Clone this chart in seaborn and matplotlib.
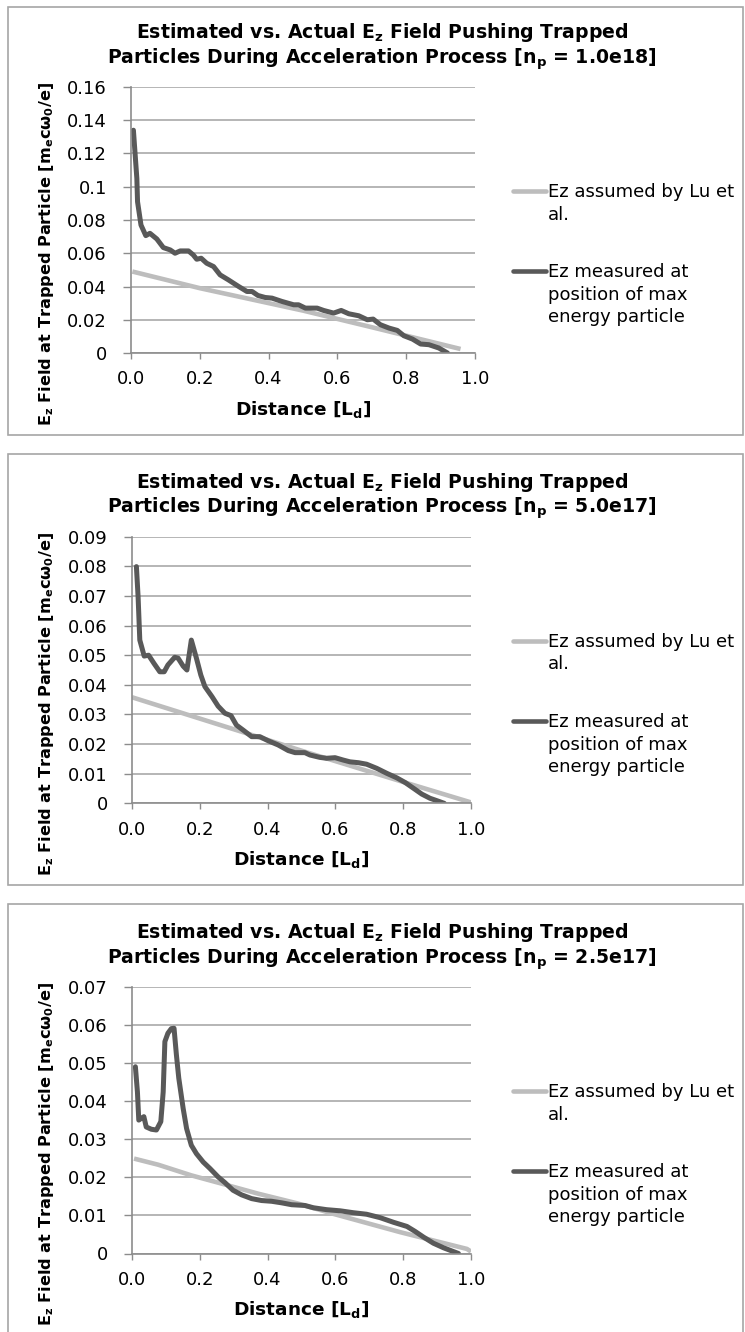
import numpy as np
import pandas as pd
import matplotlib
matplotlib.use("Agg")
import matplotlib.pyplot as plt
import seaborn as sns
from matplotlib.lines import Line2D
from matplotlib.patches import Rectangle
from matplotlib.ticker import FuncFormatter, MultipleLocator

# ---------------- data ----------------
densities = ["1.0e18", "5.0e17", "2.5e17"]
series_names = ["Ez assumed by Lu et al.", "Ez measured at position of max energy particle"]

p1_lu_x = [0.004, 0.2, 0.4, 0.5, 0.7, 0.958]
p1_lu_y = [0.049, 0.039, 0.030, 0.0255, 0.0155, 0.0024]
p1_meas_x = [0.007, 0.017, 0.019, 0.029, 0.043, 0.055, 0.075, 0.094, 0.114, 0.128,
             0.143, 0.167, 0.181, 0.191, 0.204, 0.22, 0.24, 0.259, 0.283, 0.313,
             0.337, 0.352, 0.369, 0.390, 0.41, 0.439, 0.473, 0.487, 0.507, 0.521,
             0.541, 0.560, 0.589, 0.611, 0.633, 0.662, 0.687, 0.704, 0.725, 0.75,
             0.774, 0.793, 0.818, 0.842, 0.866, 0.895, 0.92]
p1_meas_y = [0.134, 0.105, 0.091, 0.077, 0.0706, 0.072, 0.0686, 0.0634, 0.062, 0.060,
             0.0614, 0.0614, 0.059, 0.0564, 0.057, 0.054, 0.052, 0.047, 0.044, 0.040,
             0.037, 0.037, 0.0346, 0.0334, 0.033, 0.031, 0.029, 0.029, 0.027, 0.027,
             0.027, 0.0256, 0.024, 0.0256, 0.0236, 0.0224, 0.020, 0.0204, 0.017, 0.015,
             0.0136, 0.0104, 0.0084, 0.0054, 0.005, 0.003, 0.0]

p2_lu_x = [0.0, 0.2, 0.4, 0.51, 0.8, 1.0]
p2_lu_y = [0.0358, 0.0286, 0.0214, 0.0174, 0.0072, 0.0003]
p2_meas_x = [0.013, 0.018, 0.023, 0.036, 0.049, 0.065, 0.082, 0.095, 0.106, 0.126,
             0.136, 0.151, 0.162, 0.175, 0.19, 0.203, 0.215, 0.236, 0.254, 0.274,
             0.292, 0.308, 0.328, 0.353, 0.377, 0.402, 0.431, 0.461, 0.481, 0.51,
             0.525, 0.554, 0.574, 0.599, 0.623, 0.643, 0.668, 0.692, 0.722, 0.752,
             0.781, 0.806, 0.83, 0.855, 0.879, 0.899, 0.921]
p2_meas_y = [0.0799, 0.0697, 0.0551, 0.0497, 0.050, 0.0472, 0.0444, 0.0444, 0.0467, 0.0493,
             0.049, 0.0463, 0.045, 0.0551, 0.049, 0.0433, 0.0394, 0.036, 0.0328, 0.0304,
             0.0296, 0.0264, 0.0247, 0.0225, 0.0225, 0.0211, 0.0197, 0.0178, 0.0171, 0.0171,
             0.0163, 0.0155, 0.0152, 0.0154, 0.0146, 0.014, 0.0137, 0.0132, 0.0118, 0.0101,
             0.0086, 0.007, 0.0051, 0.0031, 0.0017, 0.0009, 0.0]

p3_lu_x = [0.006, 0.077, 0.175, 0.274, 0.372, 0.49, 0.594, 0.791, 0.988, 1.0]
p3_lu_y = [0.0249, 0.0233, 0.0205, 0.0181, 0.0157, 0.0131, 0.0104, 0.0056, 0.0012, 0.0005]
p3_meas_x = [0.010, 0.016, 0.020, 0.028, 0.035, 0.042, 0.057, 0.072, 0.085, 0.092,
             0.097, 0.106, 0.116, 0.124, 0.131, 0.138, 0.151, 0.161, 0.175, 0.19,
             0.21, 0.23, 0.254, 0.274, 0.298, 0.323, 0.353, 0.382, 0.412, 0.441,
             0.471, 0.51, 0.535, 0.574, 0.614, 0.653, 0.692, 0.732, 0.771, 0.811,
             0.835, 0.86, 0.889, 0.919, 0.963]
p3_meas_y = [0.049, 0.0424, 0.035, 0.0355, 0.0359, 0.0332, 0.0326, 0.0324, 0.0346, 0.0424,
             0.0556, 0.0578, 0.059, 0.0591, 0.0521, 0.046, 0.038, 0.0328, 0.0284, 0.0262,
             0.024, 0.0223, 0.0201, 0.0186, 0.0166, 0.0154, 0.0144, 0.0139, 0.0137, 0.0133,
             0.0128, 0.0126, 0.012, 0.0115, 0.0112, 0.0107, 0.0103, 0.0094, 0.0082, 0.0071,
             0.0058, 0.0043, 0.0027, 0.0015, 0.0]

y_maxima = [0.16, 0.09, 0.07]
y_steps = [0.02, 0.01, 0.01]
x_ticks = [0.0, 0.2, 0.4, 0.6, 0.8, 1.0]

legend_lines = [["Ez assumed by Lu et", "al."],
                ["Ez measured at", "position of max", "energy particle"]]

# ---------------- style ----------------
sns.set_theme(style="white")
plt.rcParams['font.family'] = ['DejaVu Sans']
plt.rcParams['mathtext.fontset'] = 'dejavusans'

LIGHT = "#bdbdbd"
DARK = "#595959"
GRID = "#a9a9a9"
SPINE = "#8c8c8c"
BOXC = "#a6a6a6"
TEXT = "#000000"

W, H = 745, 1332
fig = plt.figure(figsize=(W / 100, H / 100), dpi=100)
fig.patch.set_facecolor("white")


def fx(x):
    return x / W


def fy(y):
    return 1 - y / H


# panel geometry in pixels
layouts = [
    dict(top=7, bottom=435, ax=(131, 87, 475, 353), dy=0),
    dict(top=454, bottom=885, ax=(132, 536.7, 471, 803.3), dy=2.7),
    dict(top=904, bottom=1345, ax=(132, 986.7, 471, 1253.5), dy=2.7),
]

data = [
    (p1_lu_x, p1_lu_y, p1_meas_x, p1_meas_y),
    (p2_lu_x, p2_lu_y, p2_meas_x, p2_meas_y),
    (p3_lu_x, p3_lu_y, p3_meas_x, p3_meas_y),
]


def yfmt(v, pos):
    s = f"{v:.2f}".rstrip("0").rstrip(".")
    return s


for i, lay in enumerate(layouts):
    top, bottom = lay["top"], lay["bottom"]
    l, t, r, b = lay["ax"]
    # chart box
    fig.patches.append(Rectangle((fx(8), fy(bottom)), fx(743) - fx(8), fy(top) - fy(bottom),
                                 transform=fig.transFigure, fill=False,
                                 edgecolor=BOXC, linewidth=1.2, zorder=0))

    ax = fig.add_axes([fx(l), fy(b), fx(r) - fx(l), fy(t) - fy(b)])
    lux, luy, mx, my = data[i]
    df_lu = pd.DataFrame({"x": lux, "y": luy, "series": series_names[0]})
    df_m = pd.DataFrame({"x": mx, "y": my, "series": series_names[1]})
    sns.lineplot(data=df_lu, x="x", y="y", ax=ax, color=LIGHT, linewidth=3.3,
                 estimator=None, sort=False, legend=False, solid_capstyle="butt")
    sns.lineplot(data=df_m, x="x", y="y", ax=ax, color=DARK, linewidth=3.6,
                 estimator=None, sort=False, legend=False, solid_joinstyle="round")

    ax.set_xlim(0, 1.0)
    ax.set_ylim(0, y_maxima[i])
    ax.set_xticks(x_ticks)
    ax.xaxis.set_major_formatter(FuncFormatter(lambda v, p: f"{v:.1f}"))
    ax.yaxis.set_major_locator(MultipleLocator(y_steps[i]))
    ax.yaxis.set_major_formatter(FuncFormatter(yfmt))
    ax.set_xlabel("")
    ax.set_ylabel("")
    ax.set_axisbelow(True)
    ax.yaxis.grid(True, color=GRID, linewidth=1.2)
    ax.xaxis.grid(False)
    for side in ["top", "right"]:
        ax.spines[side].set_visible(False)
    for side in ["left", "bottom"]:
        ax.spines[side].set_color(SPINE)
        ax.spines[side].set_linewidth(1.2)
    ax.tick_params(axis="y", direction="out", length=5.8, width=1.0, color=SPINE,
                   pad=11.5, labelsize=13, labelcolor=TEXT, left=True)
    ax.tick_params(axis="x", direction="out", length=4.5, width=1.0, color=SPINE,
                   pad=8, labelsize=13, labelcolor=TEXT, bottom=True)
    ax.patch.set_alpha(0)

    # title (two lines)
    fig.text(fx(382), fy(top + 31.5 + lay["dy"]),
             r"Estimated vs. Actual $\mathbf{E_z}$ Field Pushing Trapped",
             ha="center", va="baseline", fontsize=13.6, fontweight="bold", color=TEXT)
    fig.text(fx(382), fy(top + 56.5 + lay["dy"]),
             r"Particles During Acceleration Process [$\mathbf{n_p}$ = " + densities[i] + "]",
             ha="center", va="baseline", fontsize=13.6, fontweight="bold", color=TEXT)

    # axis labels
    fig.text(fx((l + r) / 2), fy(b + 62), r"Distance [$\mathbf{L_d}$]",
             ha="center", va="baseline", fontsize=13.3, fontweight="bold", color=TEXT)
    fig.text(fx(47), fy(top + 247 + lay["dy"]),
             r"$\mathbf{E_z}$ Field at Trapped Particle [$\mathbf{m_e}$cω$_\mathbf{0}$/e]",
             ha="center", va="center", rotation=90, fontsize=11.6, fontweight="bold",
             color=TEXT)

    # legend (Excel style: handle beside first line)
    base0 = top + 190.3 + lay["dy"]
    starts = [base0, base0 + 80]
    colors = [LIGHT, DARK]
    for k in range(2):
        yb = starts[k]
        fig.lines.append(Line2D([fx(513), fx(546)], [fy(yb - 6), fy(yb - 6)],
                                transform=fig.transFigure, color=colors[k], linewidth=3.3))
        for j, line in enumerate(legend_lines[k]):
            fig.text(fx(548), fy(yb + 22.5 * j), line, ha="left", va="baseline",
                     fontsize=13, color=TEXT)

fig.savefig("out.png", dpi=100, facecolor="white")
